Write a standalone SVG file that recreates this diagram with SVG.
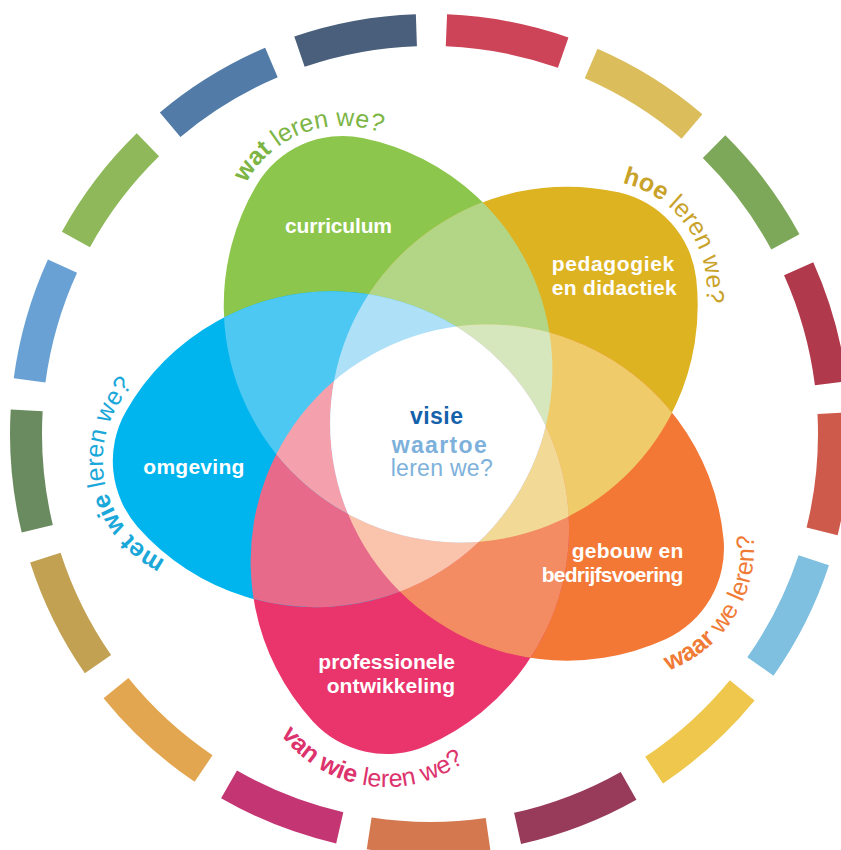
<svg xmlns="http://www.w3.org/2000/svg" width="841" height="850" viewBox="0 0 841 850">
<style>
.lbl{font-family:"Liberation Sans",Arial,sans-serif;font-weight:700;font-size:21px;fill:#fff}
.q{font-family:"Liberation Sans",Arial,sans-serif;font-size:25px;text-anchor:middle}
.b{font-weight:700}
.seg{fill:none;stroke-width:32}
.ctr{font-family:"Liberation Sans",Arial,sans-serif;font-size:23px}
</style>
<defs>
<path id="seg" d="M370.56 34.4A404 404 0 0 1 489.44 34.4"/>
<path id="petal" d="M0 113.8A237 237 0 0 1 -58.05 -302.42A100 100 0 0 1 58.05 -302.42A237 237 0 0 1 0 113.8Z"/>
<circle id="k12" cx="432.6" cy="302.5" r="237" transform="rotate(12 432.6 437.8)"/>
<circle id="k84" cx="432.6" cy="302.5" r="237" transform="rotate(84 432.6 437.8)"/>
<circle id="k156" cx="432.6" cy="302.5" r="237" transform="rotate(156 432.6 437.8)"/>
<circle id="k228" cx="432.6" cy="302.5" r="237" transform="rotate(228 432.6 437.8)"/>
<circle id="k300" cx="432.6" cy="302.5" r="237" transform="rotate(300 432.6 437.8)"/>
<clipPath id="c12"><use href="#k12"/></clipPath>
<clipPath id="c84"><use href="#k84"/></clipPath>
<clipPath id="c156"><use href="#k156"/></clipPath>
<clipPath id="c228"><use href="#k228"/></clipPath>
<clipPath id="c300"><use href="#k300"/></clipPath>
<path id="tp-wat" d="M236.7 265.3A110 110 0 0 1 441.98 188.54"/>
<path id="tp-hoe" d="M541.83 194.66A110 110 0 0 1 667.54 374.18"/>
<path id="tp-waar" d="M564.97 664.13A130 130 0 0 0 702.23 444.48"/>
<path id="tp-van" d="M253.9 645.85A133 133 0 0 0 515.98 685.02"/>
<path id="tp-met" d="M223.35 570.39A110 110 0 0 1 183.41 354.9"/>
</defs>

<g id="ring" class="seg">
<use href="#seg" stroke="#CD4458" transform="rotate(10.79 430 434)"/>
<use href="#seg" stroke="#DBBD5C" transform="rotate(31.97 430 434)"/>
<use href="#seg" stroke="#7EA859" transform="rotate(53.14 430 434)"/>
<use href="#seg" stroke="#B0394B" transform="rotate(74.32 430 434)"/>
<use href="#seg" stroke="#CE5A4C" transform="rotate(95.49 430 434)"/>
<use href="#seg" stroke="#7FBFE0" transform="rotate(116.67 430 434)"/>
<use href="#seg" stroke="#EEC74C" transform="rotate(137.85 430 434)"/>
<use href="#seg" stroke="#983A5A" transform="rotate(159.02 430 434)"/>
<use href="#seg" stroke="#D47850" transform="rotate(180.2 430 434)"/>
<use href="#seg" stroke="#C33673" transform="rotate(201.37 430 434)"/>
<use href="#seg" stroke="#E3A650" transform="rotate(222.55 430 434)"/>
<use href="#seg" stroke="#C2A152" transform="rotate(243.73 430 434)"/>
<use href="#seg" stroke="#6A8B5F" transform="rotate(264.9 430 434)"/>
<use href="#seg" stroke="#6AA1D4" transform="rotate(286.08 430 434)"/>
<use href="#seg" stroke="#8EB85A" transform="rotate(307.25 430 434)"/>
<use href="#seg" stroke="#527BA8" transform="rotate(328.43 430 434)"/>
<use href="#seg" stroke="#4A5F7B" transform="rotate(349.61 430 434)"/>
</g>

<g id="petals">
<use id="petal-curriculum" href="#petal" transform="translate(432.6 437.8) rotate(-24)" fill="#8DC64C"/>
<use id="petal-pedagogiek" href="#petal" transform="translate(432.6 437.8) rotate(48)" fill="#DDB322"/>
<use id="petal-gebouw" href="#petal" transform="translate(432.6 437.8) rotate(120)" fill="#F37735"/>
<use id="petal-professionele" href="#petal" transform="translate(432.6 437.8) rotate(192)" fill="#E9356C"/>
<use id="petal-omgeving" href="#petal" transform="translate(432.6 437.8) rotate(264)" fill="#00B5EE"/>
</g>

<g id="overlaps">
<g clip-path="url(#c300)"><g clip-path="url(#c12)"><use href="#k84" fill="#B3D686"/></g></g>
<g clip-path="url(#c12)"><g clip-path="url(#c84)"><use href="#k156" fill="#F0CB69"/></g></g>
<g clip-path="url(#c84)"><g clip-path="url(#c156)"><use href="#k228" fill="#F38C62"/></g></g>
<g clip-path="url(#c156)"><g clip-path="url(#c228)"><use href="#k300" fill="#E76A8A"/></g></g>
<g clip-path="url(#c228)"><g clip-path="url(#c300)"><use href="#k12" fill="#4DC8F2"/></g></g>
<g clip-path="url(#c300)"><g clip-path="url(#c12)"><g clip-path="url(#c84)"><use href="#k156" fill="#D7E7BD"/></g></g></g>
<g clip-path="url(#c12)"><g clip-path="url(#c84)"><g clip-path="url(#c156)"><use href="#k228" fill="#F2D995"/></g></g></g>
<g clip-path="url(#c84)"><g clip-path="url(#c156)"><g clip-path="url(#c228)"><use href="#k300" fill="#F9C4AB"/></g></g></g>
<g clip-path="url(#c156)"><g clip-path="url(#c228)"><g clip-path="url(#c300)"><use href="#k12" fill="#F4A1AD"/></g></g></g>
<g clip-path="url(#c228)"><g clip-path="url(#c300)"><g clip-path="url(#c12)"><use href="#k84" fill="#AEE0F7"/></g></g></g>
<g clip-path="url(#c12)"><g clip-path="url(#c84)"><g clip-path="url(#c156)"><g clip-path="url(#c228)"><use href="#k300" fill="#FFFFFF"/></g></g></g></g>
</g>

<g id="node-visie">
<text class="ctr b" x="410" y="424" fill="#1462AB" textLength="53">visie</text>
<text class="ctr b" x="391.7" y="452.5" fill="#7DB1DB" textLength="95">waartoe</text>
<text class="ctr" x="390.7" y="475.5" fill="#7DB1DB" textLength="102">leren we?</text>
</g>

<g id="node-curriculum">
<text class="lbl" x="285" y="232.5" textLength="107">curriculum</text>
<text class="q" fill="#7DB545"><textPath href="#tp-wat" startOffset="50%"><tspan class="b">wat</tspan> leren we?</textPath></text>
</g>

<g id="node-pedagogiek">
<text class="lbl" x="551.7" y="270.5" textLength="122.5">pedagogiek</text>
<text class="lbl" x="551.7" y="295" textLength="125">en didactiek</text>
<text class="q" fill="#C9A22A"><textPath href="#tp-hoe" startOffset="50%"><tspan class="b">hoe</tspan> leren we?</textPath></text>
</g>

<g id="node-gebouw">
<text class="lbl" x="571.7" y="557.5" textLength="111.6">gebouw en</text>
<text class="lbl" x="541.7" y="581.7" textLength="141.6">bedrijfsvoering</text>
<text class="q" fill="#F07B35"><textPath href="#tp-waar" startOffset="50%"><tspan class="b">waar</tspan> we leren?</textPath></text>
</g>

<g id="node-professionele">
<text class="lbl" x="318.3" y="669" textLength="136.7">professionele</text>
<text class="lbl" x="326.7" y="693" textLength="128.3">ontwikkeling</text>
<text class="q" fill="#DD336D"><textPath href="#tp-van" startOffset="50%"><tspan class="b">van wie</tspan> leren we?</textPath></text>
</g>

<g id="node-omgeving">
<text class="lbl" x="143.3" y="474" textLength="101">omgeving</text>
<text class="q" fill="#1AA7D9"><textPath href="#tp-met" startOffset="50%"><tspan class="b">met wie</tspan> leren we?</textPath></text>
</g>
</svg>
